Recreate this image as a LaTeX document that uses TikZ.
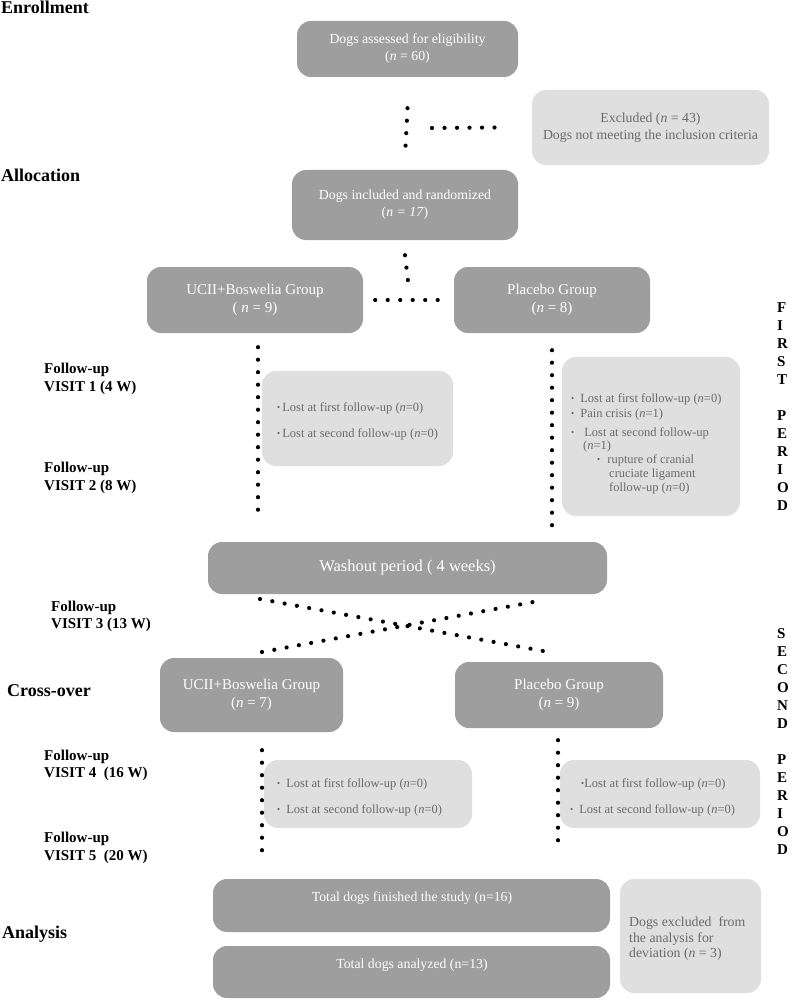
\documentclass[tikz,border=0pt]{standalone}
\usepackage{fontspec}
\setmainfont{Liberation Serif}
\usetikzlibrary{decorations.markings}
\definecolor{dkbox}{HTML}{9E9E9E}
\definecolor{ltbox}{HTML}{DFDFDF}
\definecolor{lttext}{HTML}{6A6A6A}
\newcommand{\fntHead}{\bfseries\fontsize{18}{20}\selectfont}
\newcommand{\fntVisit}{\bfseries\fontsize{15}{18}\selectfont}
\newcommand{\fntTop}{\fontsize{13.8}{17}\selectfont}
\newcommand{\fntGrp}{\fontsize{15}{18}\selectfont}
\newcommand{\fntWash}{\fontsize{16.5}{19}\selectfont}
\newcommand{\fntLost}{\fontsize{12.5}{14.5}\selectfont}
\newcommand{\fntPer}{\bfseries\fontsize{15}{18}\selectfont}
\newcommand{\smbul}{{\fontsize{9}{9}\selectfont\raisebox{0.5pt}{\textbullet}}}
\tikzset{
  darkbox/.style={fill=dkbox, rounded corners=14pt, inner sep=0pt, text=white, align=center},
  lightbox/.style={fill=ltbox, rounded corners=14pt, inner sep=0pt, text=lttext, align=center},
  dotline/.style={decoration={markings, mark=between positions 0 and 1 step 12.5pt with {\fill[black] (0,0) circle (2.1pt);}}, decorate},
  head/.style={anchor=base west, inner sep=0pt, font=\fntHead},
  visit/.style={anchor=base west, inner sep=0pt, font=\fntVisit},
  lost/.style={anchor=base west, inner sep=0pt, font=\fntLost, text=lttext},
  period/.style={anchor=base west, inner sep=0pt, font=\fntPer},
  plain/.style={anchor=base, inner sep=0pt, text=white, font=\fntTop},
}
\begin{document}
\begin{tikzpicture}[x=1pt,y=-1pt]
\useasboundingbox (0,0) rectangle (792,1000);

% ---------- headings ----------
\node[head] (hEnr) at (1,14) {Enrollment};
\node[head] (hAll) at (1,182) {Allocation};
\node[head] (hCross) at (7,696) {Cross-over};
\node[head] (hAna) at (2,938) {Analysis};

\node[visit] (v1a) at (44,373) {Follow-up};
\node[visit] (v1b) at (44,391) {VISIT 1 (4 W)};
\node[visit] (v2a) at (44,472) {Follow-up};
\node[visit] (v2b) at (44,490) {VISIT 2 (8 W)};
\node[visit] (v3a) at (51,611) {Follow-up};
\node[visit] (v3b) at (51,628) {VISIT 3 (13 W)};
\node[visit] (v4a) at (44,760) {Follow-up};
\node[visit] (v4b) at (44,777) {VISIT 4\ \ (16 W)};
\node[visit] (v5a) at (44,842) {Follow-up};
\node[visit] (v5b) at (44,860) {VISIT 5\ \ (20 W)};

% ---------- period labels ----------
\foreach \l [count=\i] in {F,I,R,S,T}
  \node[period] (fa\i) at (777,{312+18*(\i-1)}) {\l};
\foreach \l [count=\i] in {P,E,R,I,O,D}
  \node[period] (fb\i) at (777,{420+18*(\i-1)}) {\l};
\foreach \l [count=\i] in {S,E,C,O,N,D}
  \node[period] (sa\i) at (777,{638+18*(\i-1)}) {\l};
\foreach \l [count=\i] in {P,E,R,I,O,D}
  \node[period] (sb\i) at (777,{764+18*(\i-1)}) {\l};

% ---------- boxes ----------
\node[darkbox, minimum width=221pt, minimum height=56pt, font=\fntTop] (assess) at (407.5,49)
  {Dogs assessed for eligibility\\(\textit{n} = 60)};
\node[lightbox, minimum width=237pt, minimum height=75pt, font=\fntTop] (exc) at (650.5,127.5)
  {Excluded (\textit{n} = 43)\\Dogs not meeting the inclusion criteria};
\node[darkbox, minimum width=226pt, minimum height=70pt, font=\fntTop] (incl) at (405,205)
  {Dogs included and randomized\\(\textit{n = 17})};
\node[darkbox, minimum width=216pt, minimum height=66pt, font=\fntGrp] (ucii1) at (255,300)
  {UCII+Boswelia Group\\( \textit{n} = 9)};
\node[darkbox, minimum width=196pt, minimum height=66pt, font=\fntGrp] (plac1) at (552,300)
  {Placebo Group\\(\textit{n} = 8)};
\node[lightbox, minimum width=191pt, minimum height=95pt] (llost1) at (357.5,418.5) {};
\node[lightbox, minimum width=178pt, minimum height=159pt] (rlost1) at (651,436.5) {};
\node[darkbox, minimum width=399pt, minimum height=52pt, font=\fntWash] (wash) at (407.5,568)
  {Washout period ( 4 weeks)};
\node[darkbox, minimum width=183pt, minimum height=74pt, font=\fntGrp] (ucii2) at (251.5,695)
  {UCII+Boswelia Group\\(\textit{n} = 7)};
\node[darkbox, minimum width=208pt, minimum height=66pt, font=\fntGrp] (plac2) at (559,695)
  {Placebo Group\\(\textit{n} = 9)};
\node[lightbox, minimum width=208pt, minimum height=68pt] (llost2) at (368,794) {};
\node[lightbox, minimum width=200pt, minimum height=68pt] (rlost2) at (660,794) {};
\node[darkbox, minimum width=397pt, minimum height=53pt] (totf) at (411.5,905.5) {};
\node[darkbox, minimum width=397pt, minimum height=52pt] (tota) at (411.5,972) {};
\node[lightbox, minimum width=141pt, minimum height=114pt] (exana) at (690.5,936) {};

% ---------- texts inside boxes ----------
\node[lost] (l1a) at (277,411) {\smbul\hspace{2pt}Lost at first follow-up (\textit{n}=0)};
\node[lost] (l1b) at (277,437) {\smbul\hspace{2pt}Lost at second follow-up (\textit{n}=0)};

\node[lost] (r1a) at (571,402) {\smbul\hspace{6pt}Lost at first follow-up (\textit{n}=0)};
\node[lost] (r1b) at (571,417) {\smbul\hspace{6pt}Pain crisis (\textit{n}=1)};
\node[lost] (r1c) at (571,436) {\smbul\hspace{10pt}Lost at second follow-up};
\node[lost] (r1d) at (583,449) {(\textit{n}=1)};
\node[lost] (r1e) at (597,463) {\smbul\hspace{7pt}rupture of cranial};
\node[lost] (r1f) at (609,477) {cruciate ligament};
\node[lost] (r1g) at (609,491) {follow-up (\textit{n}=0)};

\node[lost] (l2a) at (277,787) {\smbul\hspace{6pt}Lost at first follow-up (\textit{n}=0)};
\node[lost] (l2b) at (277,813) {\smbul\hspace{6pt}Lost at second follow-up (\textit{n}=0)};
\node[lost] (r2a) at (581,787) {\smbul Lost at first follow-up (\textit{n}=0)};
\node[lost] (r2b) at (570,813) {\smbul\hspace{6pt}Lost at second follow-up (\textit{n}=0)};

\node[plain] (totft) at (412,901.5) {Total dogs finished the study (n=16)};
\node[plain] (totat) at (412,968.5) {Total dogs analyzed (n=13)};

\node[anchor=base west, inner sep=0pt, font=\fntTop, text=lttext] (ex1) at (629,926.5) {Dogs excluded\ \ from};
\node[anchor=base west, inner sep=0pt, font=\fntTop, text=lttext] (ex2) at (629,942) {the analysis for};
\node[anchor=base west, inner sep=0pt, font=\fntTop, text=lttext] (ex3) at (629,957.5) {deviation (\textit{n} = 3)};

% ---------- dotted connectors ----------
\coordinate (j1) at (432,128);
\coordinate (j2) at (408,281);
\coordinate (e1) at (258,522);
\coordinate (e2) at (552,527);
\coordinate (xa1) at (260,599);
\coordinate (xa2) at (554,653);
\coordinate (xb1) at (262,652);
\coordinate (xb2) at (544,600);
\coordinate (e3) at (262,852);
\coordinate (e4) at (558,842);

\draw[dotline] ([yshift=-31pt]assess.south) -- ([yshift=13pt]incl.north);
\draw[dotline] (j1) -- ([xshift=-37pt]exc.west);
\draw[dotline] ([yshift=-15pt]incl.south) -- (j2);
\draw[dotline] ([xshift=12pt]ucii1.east) -- ([xshift=-14pt]plac1.west);
\draw[dotline] ([xshift=3pt,yshift=-14pt]ucii1.south) -- (e1);
\draw[dotline] ([yshift=-17pt]plac1.south) -- (e2);
\draw[dotline] (xa1) -- (xa2);
\draw[dotline] (xb1) -- (xb2);
\draw[dotline] ([xshift=10.5pt,yshift=-18pt]ucii2.south) -- (e3);
\draw[dotline] ([xshift=-1pt,yshift=-12pt]plac2.south) -- (e4);
\end{tikzpicture}
\end{document}
